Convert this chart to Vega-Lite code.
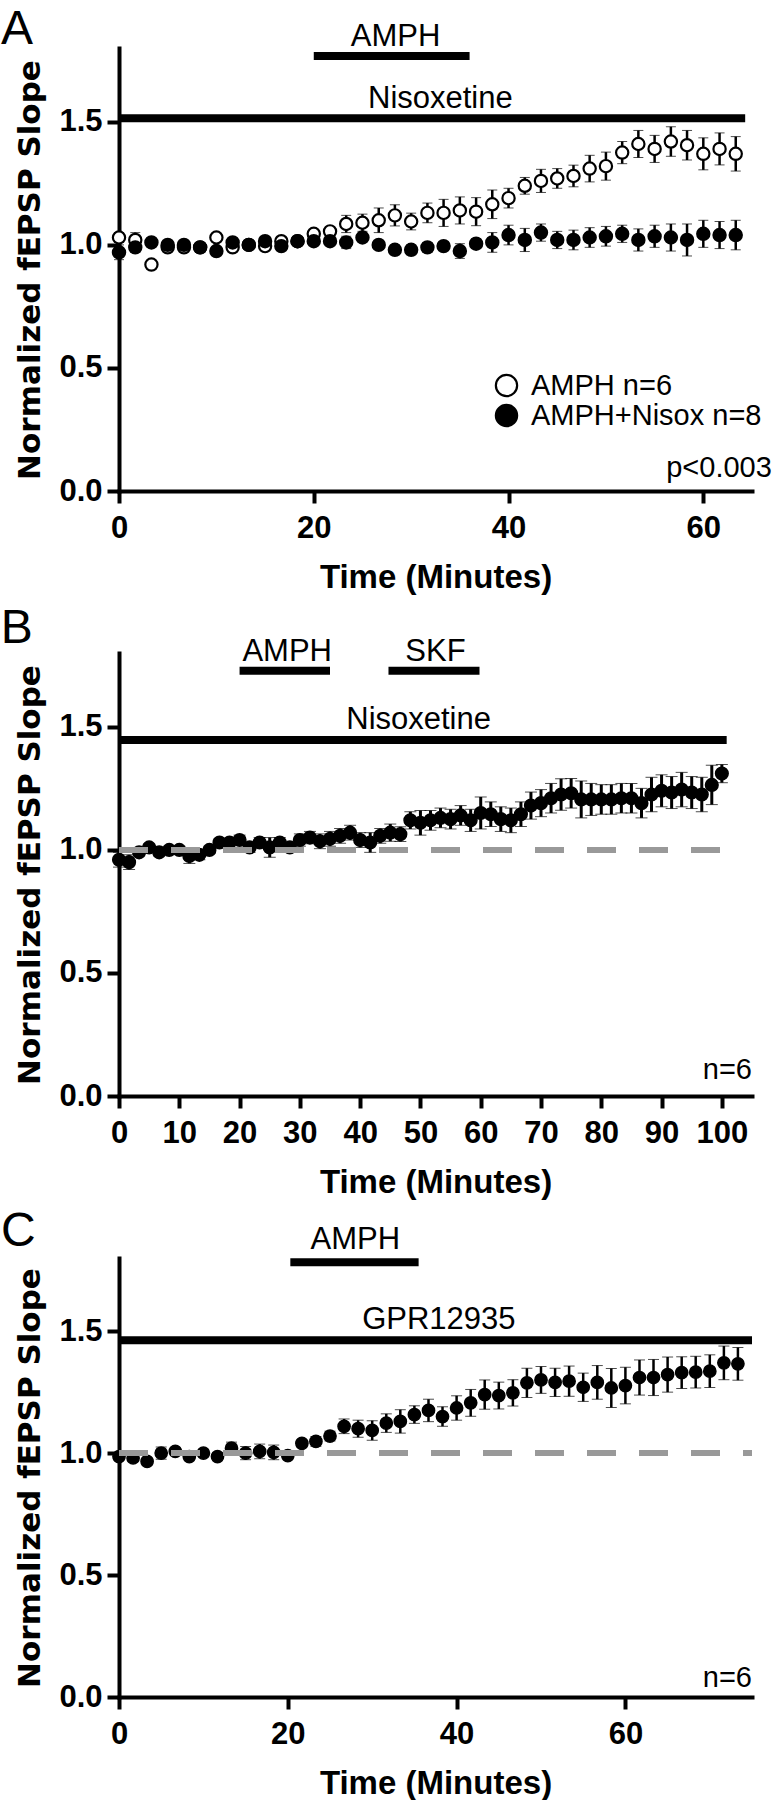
{
 "$schema": "https://vega.github.io/schema/vega-lite/v6.json",
 "padding": {"top": 5, "left": 0, "right": 0, "bottom": 0},
 "background": "white",
 "spacing": 162,
 "bounds": "flush",
 "resolve": {"scale": {"fill": "independent"}},
 "config": {
  "view": {"stroke": null},
  "font": "Liberation Sans",
  "axis": {"domainColor": "black", "domainWidth": 4, "tickColor": "black", "tickWidth": 4, "tickSize": 12, "labelFont": "Liberation Sans", "labelFontWeight": "bold", "labelFontSize": 31, "labelColor": "black", "grid": false, "titleColor": "black", "labelFlush": false, "labelOverlap": false, "domainCap": "square"},
  "axisX": {"labelPadding": 10, "titleFont": "Liberation Sans", "titleFontWeight": "bold", "titleFontSize": 33, "titleY": 96, "titleBaseline": "alphabetic"},
  "axisY": {"labelPadding": 5, "titleFont": "DejaVu Sans", "titleFontWeight": "bold", "titleFontSize": 31, "titleX": -80, "titleBaseline": "alphabetic"}
 },
 "datasets": {
  "A": [
   {"s": "AMPH n=6", "t": 0, "v": 1.03, "e": 0.02},
   {"s": "AMPH n=6", "t": 1.67, "v": 1.02, "e": 0.03},
   {"s": "AMPH n=6", "t": 3.33, "v": 0.92, "e": 0.015},
   {"s": "AMPH n=6", "t": 5, "v": 0.99, "e": 0.01},
   {"s": "AMPH n=6", "t": 6.67, "v": 0.99, "e": 0.01},
   {"s": "AMPH n=6", "t": 8.33, "v": 0.99, "e": 0.01},
   {"s": "AMPH n=6", "t": 10, "v": 1.03, "e": 0.01},
   {"s": "AMPH n=6", "t": 11.67, "v": 0.99, "e": 0.01},
   {"s": "AMPH n=6", "t": 13.33, "v": 1.0, "e": 0.01},
   {"s": "AMPH n=6", "t": 15, "v": 0.995, "e": 0.01},
   {"s": "AMPH n=6", "t": 16.67, "v": 1.015, "e": 0.01},
   {"s": "AMPH n=6", "t": 18.33, "v": 1.015, "e": 0.01},
   {"s": "AMPH n=6", "t": 20, "v": 1.045, "e": 0.01},
   {"s": "AMPH n=6", "t": 21.67, "v": 1.055, "e": 0.015},
   {"s": "AMPH n=6", "t": 23.33, "v": 1.085, "e": 0.035},
   {"s": "AMPH n=6", "t": 25, "v": 1.09, "e": 0.035},
   {"s": "AMPH n=6", "t": 26.67, "v": 1.1, "e": 0.05},
   {"s": "AMPH n=6", "t": 28.33, "v": 1.12, "e": 0.043},
   {"s": "AMPH n=6", "t": 30, "v": 1.095, "e": 0.034},
   {"s": "AMPH n=6", "t": 31.67, "v": 1.13, "e": 0.04},
   {"s": "AMPH n=6", "t": 33.33, "v": 1.13, "e": 0.055},
   {"s": "AMPH n=6", "t": 35, "v": 1.14, "e": 0.055},
   {"s": "AMPH n=6", "t": 36.67, "v": 1.135, "e": 0.057},
   {"s": "AMPH n=6", "t": 38.33, "v": 1.165, "e": 0.058},
   {"s": "AMPH n=6", "t": 40, "v": 1.19, "e": 0.04},
   {"s": "AMPH n=6", "t": 41.67, "v": 1.24, "e": 0.034},
   {"s": "AMPH n=6", "t": 43.33, "v": 1.26, "e": 0.047},
   {"s": "AMPH n=6", "t": 45, "v": 1.27, "e": 0.04},
   {"s": "AMPH n=6", "t": 46.67, "v": 1.28, "e": 0.044},
   {"s": "AMPH n=6", "t": 48.33, "v": 1.31, "e": 0.054},
   {"s": "AMPH n=6", "t": 50, "v": 1.32, "e": 0.057},
   {"s": "AMPH n=6", "t": 51.67, "v": 1.375, "e": 0.045},
   {"s": "AMPH n=6", "t": 53.33, "v": 1.41, "e": 0.055},
   {"s": "AMPH n=6", "t": 55, "v": 1.39, "e": 0.055},
   {"s": "AMPH n=6", "t": 56.67, "v": 1.42, "e": 0.06},
   {"s": "AMPH n=6", "t": 58.33, "v": 1.405, "e": 0.06},
   {"s": "AMPH n=6", "t": 60, "v": 1.37, "e": 0.065},
   {"s": "AMPH n=6", "t": 61.67, "v": 1.39, "e": 0.065},
   {"s": "AMPH n=6", "t": 63.33, "v": 1.37, "e": 0.07},
   {"s": "AMPH+Nisox n=8", "t": 0, "v": 0.97, "e": 0.03},
   {"s": "AMPH+Nisox n=8", "t": 1.67, "v": 0.99, "e": 0.02},
   {"s": "AMPH+Nisox n=8", "t": 3.33, "v": 1.01, "e": 0.01},
   {"s": "AMPH+Nisox n=8", "t": 5, "v": 1.0, "e": 0.01},
   {"s": "AMPH+Nisox n=8", "t": 6.67, "v": 1.0, "e": 0.01},
   {"s": "AMPH+Nisox n=8", "t": 8.33, "v": 0.99, "e": 0.02},
   {"s": "AMPH+Nisox n=8", "t": 10, "v": 0.975, "e": 0.01},
   {"s": "AMPH+Nisox n=8", "t": 11.67, "v": 1.01, "e": 0.01},
   {"s": "AMPH+Nisox n=8", "t": 13.33, "v": 1.0, "e": 0.01},
   {"s": "AMPH+Nisox n=8", "t": 15, "v": 1.015, "e": 0.01},
   {"s": "AMPH+Nisox n=8", "t": 16.67, "v": 0.995, "e": 0.01},
   {"s": "AMPH+Nisox n=8", "t": 18.33, "v": 1.015, "e": 0.01},
   {"s": "AMPH+Nisox n=8", "t": 20, "v": 1.015, "e": 0.01},
   {"s": "AMPH+Nisox n=8", "t": 21.67, "v": 1.015, "e": 0.01},
   {"s": "AMPH+Nisox n=8", "t": 23.33, "v": 1.01, "e": 0.025},
   {"s": "AMPH+Nisox n=8", "t": 25, "v": 1.03, "e": 0.015},
   {"s": "AMPH+Nisox n=8", "t": 26.67, "v": 1.0, "e": 0.015},
   {"s": "AMPH+Nisox n=8", "t": 28.33, "v": 0.98, "e": 0.02},
   {"s": "AMPH+Nisox n=8", "t": 30, "v": 0.98, "e": 0.02},
   {"s": "AMPH+Nisox n=8", "t": 31.67, "v": 0.99, "e": 0.02},
   {"s": "AMPH+Nisox n=8", "t": 33.33, "v": 0.995, "e": 0.015},
   {"s": "AMPH+Nisox n=8", "t": 35, "v": 0.975, "e": 0.03},
   {"s": "AMPH+Nisox n=8", "t": 36.67, "v": 1.005, "e": 0.02},
   {"s": "AMPH+Nisox n=8", "t": 38.33, "v": 1.01, "e": 0.04},
   {"s": "AMPH+Nisox n=8", "t": 40, "v": 1.04, "e": 0.04},
   {"s": "AMPH+Nisox n=8", "t": 41.67, "v": 1.02, "e": 0.047},
   {"s": "AMPH+Nisox n=8", "t": 43.33, "v": 1.05, "e": 0.035},
   {"s": "AMPH+Nisox n=8", "t": 45, "v": 1.02, "e": 0.035},
   {"s": "AMPH+Nisox n=8", "t": 46.67, "v": 1.02, "e": 0.04},
   {"s": "AMPH+Nisox n=8", "t": 48.33, "v": 1.03, "e": 0.04},
   {"s": "AMPH+Nisox n=8", "t": 50, "v": 1.035, "e": 0.04},
   {"s": "AMPH+Nisox n=8", "t": 51.67, "v": 1.045, "e": 0.035},
   {"s": "AMPH+Nisox n=8", "t": 53.33, "v": 1.02, "e": 0.045},
   {"s": "AMPH+Nisox n=8", "t": 55, "v": 1.035, "e": 0.045},
   {"s": "AMPH+Nisox n=8", "t": 56.67, "v": 1.03, "e": 0.055},
   {"s": "AMPH+Nisox n=8", "t": 58.33, "v": 1.02, "e": 0.065},
   {"s": "AMPH+Nisox n=8", "t": 60, "v": 1.045, "e": 0.055},
   {"s": "AMPH+Nisox n=8", "t": 61.67, "v": 1.04, "e": 0.055},
   {"s": "AMPH+Nisox n=8", "t": 63.33, "v": 1.04, "e": 0.06}
  ],
  "B": [
   {"t": 0, "v": 0.96, "e": 0.03}, {"t": 1.67, "v": 0.95, "e": 0.03}, {"t": 3.33, "v": 0.99, "e": 0.015},
   {"t": 5, "v": 1.01, "e": 0.015}, {"t": 6.67, "v": 0.99, "e": 0.015}, {"t": 8.33, "v": 1.0, "e": 0.015},
   {"t": 10, "v": 1.0, "e": 0.015}, {"t": 11.67, "v": 0.975, "e": 0.03}, {"t": 13.33, "v": 0.98, "e": 0.02},
   {"t": 15, "v": 1.0, "e": 0.015}, {"t": 16.67, "v": 1.03, "e": 0.015}, {"t": 18.33, "v": 1.03, "e": 0.015},
   {"t": 20, "v": 1.04, "e": 0.02}, {"t": 21.67, "v": 1.01, "e": 0.02}, {"t": 23.33, "v": 1.03, "e": 0.02},
   {"t": 25, "v": 1.01, "e": 0.04}, {"t": 26.67, "v": 1.03, "e": 0.02}, {"t": 28.33, "v": 1.01, "e": 0.02},
   {"t": 30, "v": 1.04, "e": 0.025}, {"t": 31.67, "v": 1.05, "e": 0.025}, {"t": 33.33, "v": 1.035, "e": 0.03},
   {"t": 35, "v": 1.045, "e": 0.03}, {"t": 36.67, "v": 1.057, "e": 0.03}, {"t": 38.33, "v": 1.07, "e": 0.03},
   {"t": 40, "v": 1.04, "e": 0.03}, {"t": 41.67, "v": 1.03, "e": 0.04}, {"t": 43.33, "v": 1.057, "e": 0.03},
   {"t": 45, "v": 1.07, "e": 0.035}, {"t": 46.67, "v": 1.064, "e": 0.03}, {"t": 48.33, "v": 1.12, "e": 0.035},
   {"t": 50, "v": 1.11, "e": 0.05}, {"t": 51.67, "v": 1.12, "e": 0.04}, {"t": 53.33, "v": 1.13, "e": 0.04},
   {"t": 55, "v": 1.125, "e": 0.04}, {"t": 56.67, "v": 1.14, "e": 0.04}, {"t": 58.33, "v": 1.12, "e": 0.045},
   {"t": 60, "v": 1.15, "e": 0.065}, {"t": 61.67, "v": 1.145, "e": 0.05}, {"t": 63.33, "v": 1.125, "e": 0.05},
   {"t": 65, "v": 1.12, "e": 0.05}, {"t": 66.67, "v": 1.145, "e": 0.05}, {"t": 68.33, "v": 1.18, "e": 0.055},
   {"t": 70, "v": 1.19, "e": 0.055}, {"t": 71.67, "v": 1.21, "e": 0.06}, {"t": 73.33, "v": 1.225, "e": 0.064},
   {"t": 75, "v": 1.23, "e": 0.06}, {"t": 76.67, "v": 1.205, "e": 0.075}, {"t": 78.33, "v": 1.205, "e": 0.065},
   {"t": 80, "v": 1.205, "e": 0.06}, {"t": 81.67, "v": 1.205, "e": 0.06}, {"t": 83.33, "v": 1.21, "e": 0.06},
   {"t": 85, "v": 1.21, "e": 0.06}, {"t": 86.67, "v": 1.19, "e": 0.06}, {"t": 88.33, "v": 1.225, "e": 0.07},
   {"t": 90, "v": 1.24, "e": 0.065}, {"t": 91.67, "v": 1.233, "e": 0.065}, {"t": 93.33, "v": 1.245, "e": 0.07},
   {"t": 95, "v": 1.233, "e": 0.065}, {"t": 96.67, "v": 1.225, "e": 0.07}, {"t": 98.33, "v": 1.264, "e": 0.08},
   {"t": 100, "v": 1.31, "e": 0.037}
  ],
  "C": [
   {"t": 0, "v": 0.986, "e": 0.015}, {"t": 1.67, "v": 0.98, "e": 0.015}, {"t": 3.33, "v": 0.966, "e": 0.015},
   {"t": 5, "v": 1.0, "e": 0.025}, {"t": 6.67, "v": 1.007, "e": 0.015}, {"t": 8.33, "v": 0.986, "e": 0.015},
   {"t": 10, "v": 1.0, "e": 0.015}, {"t": 11.67, "v": 0.986, "e": 0.015}, {"t": 13.33, "v": 1.02, "e": 0.025},
   {"t": 15, "v": 1.0, "e": 0.027}, {"t": 16.67, "v": 1.007, "e": 0.03}, {"t": 18.33, "v": 1.003, "e": 0.03},
   {"t": 20, "v": 0.99, "e": 0.015}, {"t": 21.67, "v": 1.04, "e": 0.015}, {"t": 23.33, "v": 1.048, "e": 0.02},
   {"t": 25, "v": 1.07, "e": 0.02}, {"t": 26.67, "v": 1.11, "e": 0.03}, {"t": 28.33, "v": 1.1, "e": 0.035},
   {"t": 30, "v": 1.093, "e": 0.04}, {"t": 31.67, "v": 1.123, "e": 0.038}, {"t": 33.33, "v": 1.13, "e": 0.048},
   {"t": 35, "v": 1.158, "e": 0.036}, {"t": 36.67, "v": 1.175, "e": 0.046}, {"t": 38.33, "v": 1.15, "e": 0.04},
   {"t": 40, "v": 1.185, "e": 0.05}, {"t": 41.67, "v": 1.206, "e": 0.055}, {"t": 43.33, "v": 1.24, "e": 0.06},
   {"t": 45, "v": 1.236, "e": 0.055}, {"t": 46.67, "v": 1.247, "e": 0.054}, {"t": 48.33, "v": 1.288, "e": 0.06},
   {"t": 50, "v": 1.3, "e": 0.055}, {"t": 51.67, "v": 1.29, "e": 0.058}, {"t": 53.33, "v": 1.295, "e": 0.062},
   {"t": 55, "v": 1.27, "e": 0.058}, {"t": 56.67, "v": 1.29, "e": 0.069}, {"t": 58.33, "v": 1.267, "e": 0.08},
   {"t": 60, "v": 1.277, "e": 0.075}, {"t": 61.67, "v": 1.31, "e": 0.072}, {"t": 63.33, "v": 1.31, "e": 0.074},
   {"t": 65, "v": 1.322, "e": 0.072}, {"t": 66.67, "v": 1.33, "e": 0.065}, {"t": 68.33, "v": 1.332, "e": 0.065},
   {"t": 70, "v": 1.336, "e": 0.067}, {"t": 71.67, "v": 1.37, "e": 0.069}, {"t": 73.33, "v": 1.366, "e": 0.067}
  ],
  "barsA": [{"t": 20, "t2": 36, "v": 1.768}, {"t": 0, "t2": 64.3, "v": 1.515}],
  "labelsA": [{"t": 28.4, "v": 1.809, "label": "AMPH"}, {"t": 33.0, "v": 1.557, "label": "Nisoxetine"}],
  "letterA": [{"t": -12.12, "v": 1.817, "label": "A"}],
  "noteA": [{"t": 67.04, "v": 0.057, "label": "p<0.003"}],
  "barsB": [{"t": 20, "t2": 35, "v": 1.728}, {"t": 44.7, "t2": 59.8, "v": 1.728}, {"t": 0, "t2": 100.8, "v": 1.447}],
  "labelsB": [{"t": 27.9, "v": 1.768, "label": "AMPH"}, {"t": 52.5, "v": 1.768, "label": "SKF"}, {"t": 49.7, "v": 1.49, "label": "Nisoxetine"}],
  "letterB": [{"t": -19.6, "v": 1.84, "label": "B"}],
  "noteB": [{"t": 105, "v": 0.069, "label": "n=6"}],
  "baseB": [{"t": 0, "t2": 100, "v": 1.0}],
  "barsC": [{"t": 20.3, "t2": 35.5, "v": 1.783}, {"t": 0, "t2": 75, "v": 1.463}],
  "labelsC": [{"t": 28.0, "v": 1.836, "label": "AMPH"}, {"t": 37.9, "v": 1.508, "label": "GPR12935"}],
  "letterC": [{"t": -13.98, "v": 1.848, "label": "C"}],
  "noteC": [{"t": 75, "v": 0.041, "label": "n=6"}],
  "baseC": [{"t": 0, "t2": 75, "v": 1.0}]
 },
 "vconcat": [
  {
   "width": 633, "height": 443,
   "encoding": {
    "x": {"field": "t", "type": "quantitative", "scale": {"domain": [0, 65], "nice": false, "zero": false}, "axis": {"values": [0, 20, 40, 60], "title": "Time (Minutes)"}},
    "y": {"field": "v", "type": "quantitative", "scale": {"domain": [0, 1.8], "nice": false}, "axis": {"values": [0, 0.5, 1, 1.5], "format": ".1f", "title": "Normalized fEPSP Slope"}}
   },
   "layer": [
    {"data": {"name": "barsA"}, "mark": {"type": "rule", "strokeWidth": 8, "color": "black", "strokeCap": "butt"}, "encoding": {"x2": {"field": "t2"}}},
    {"data": {"name": "A"}, "mark": {"type": "errorbar", "color": "black", "ticks": {"size": 10, "strokeWidth": 2.5, "color": "black"}, "rule": {"strokeWidth": 2.5, "color": "black"}}, "encoding": {"yError": {"field": "e"}}},
    {"data": {"name": "A"}, "mark": {"type": "point", "shape": "circle", "filled": true, "size": 150, "stroke": "black", "strokeWidth": 2.2, "opacity": 1},
     "encoding": {"fill": {"field": "s", "type": "nominal", "scale": {"domain": ["AMPH n=6", "AMPH+Nisox n=8"], "range": ["white", "black"]},
       "legend": {"orient": "none", "legendX": 373, "legendY": 323, "title": null, "symbolType": "circle", "symbolSize": 452, "symbolStrokeColor": "black", "symbolStrokeWidth": 2.2, "symbolOpacity": 1, "labelFont": "Liberation Sans", "labelFontSize": 29, "labelColor": "black", "labelOffset": 10, "labelLimit": 0, "rowPadding": -4, "padding": 0}}}},
    {"data": {"name": "labelsA"}, "mark": {"type": "text", "fontSize": 31, "align": "center", "baseline": "alphabetic", "color": "black"}, "encoding": {"text": {"field": "label"}}},
    {"data": {"name": "letterA"}, "mark": {"type": "text", "fontSize": 48, "align": "left", "baseline": "alphabetic", "color": "black"}, "encoding": {"text": {"field": "label"}}},
    {"data": {"name": "noteA"}, "mark": {"type": "text", "fontSize": 29, "align": "right", "baseline": "alphabetic", "color": "black"}, "encoding": {"text": {"field": "label"}}}
   ]
  },
  {
   "width": 633, "height": 443,
   "encoding": {
    "x": {"field": "t", "type": "quantitative", "scale": {"domain": [0, 105], "nice": false, "zero": false}, "axis": {"values": [0, 10, 20, 30, 40, 50, 60, 70, 80, 90, 100], "title": "Time (Minutes)"}},
    "y": {"field": "v", "type": "quantitative", "scale": {"domain": [0, 1.8], "nice": false}, "axis": {"values": [0, 0.5, 1, 1.5], "format": ".1f", "title": "Normalized fEPSP Slope"}}
   },
   "layer": [
    {"data": {"name": "barsB"}, "mark": {"type": "rule", "strokeWidth": 8, "color": "black", "strokeCap": "butt"}, "encoding": {"x2": {"field": "t2"}}},
    {"data": {"name": "B"}, "mark": {"type": "errorbar", "color": "black", "ticks": {"size": 12, "strokeWidth": 3, "color": "black"}, "rule": {"strokeWidth": 3, "color": "black"}}, "encoding": {"yError": {"field": "e"}}},
    {"data": {"name": "B"}, "mark": {"type": "point", "shape": "circle", "filled": true, "size": 160, "stroke": "black", "strokeWidth": 1.5, "fill": "black", "opacity": 1}},
    {"data": {"name": "baseB"}, "mark": {"type": "rule", "strokeWidth": 6, "color": "#999999", "strokeDash": [29, 23], "strokeCap": "butt"}, "encoding": {"x2": {"field": "t2"}}},
    {"data": {"name": "labelsB"}, "mark": {"type": "text", "fontSize": 31, "align": "center", "baseline": "alphabetic", "color": "black"}, "encoding": {"text": {"field": "label"}}},
    {"data": {"name": "letterB"}, "mark": {"type": "text", "fontSize": 48, "align": "left", "baseline": "alphabetic", "color": "black"}, "encoding": {"text": {"field": "label"}}},
    {"data": {"name": "noteB"}, "mark": {"type": "text", "fontSize": 29, "align": "right", "baseline": "alphabetic", "color": "black"}, "encoding": {"text": {"field": "label"}}}
   ]
  },
  {
   "width": 633, "height": 439,
   "encoding": {
    "x": {"field": "t", "type": "quantitative", "scale": {"domain": [0, 75], "nice": false, "zero": false}, "axis": {"values": [0, 20, 40, 60], "title": "Time (Minutes)"}},
    "y": {"field": "v", "type": "quantitative", "scale": {"domain": [0, 1.8], "nice": false}, "axis": {"values": [0, 0.5, 1, 1.5], "format": ".1f", "title": "Normalized fEPSP Slope"}}
   },
   "layer": [
    {"data": {"name": "barsC"}, "mark": {"type": "rule", "strokeWidth": 8, "color": "black", "strokeCap": "butt"}, "encoding": {"x2": {"field": "t2"}}},
    {"data": {"name": "C"}, "mark": {"type": "errorbar", "color": "black", "ticks": {"size": 11, "strokeWidth": 2.5, "color": "black"}, "rule": {"strokeWidth": 2.5, "color": "black"}}, "encoding": {"yError": {"field": "e"}}},
    {"data": {"name": "C"}, "mark": {"type": "point", "shape": "circle", "filled": true, "size": 150, "stroke": "black", "strokeWidth": 1.5, "fill": "black", "opacity": 1}},
    {"data": {"name": "baseC"}, "mark": {"type": "rule", "strokeWidth": 6, "color": "#999999", "strokeDash": [29, 23], "strokeCap": "butt"}, "encoding": {"x2": {"field": "t2"}}},
    {"data": {"name": "labelsC"}, "mark": {"type": "text", "fontSize": 31, "align": "center", "baseline": "alphabetic", "color": "black"}, "encoding": {"text": {"field": "label"}}},
    {"data": {"name": "letterC"}, "mark": {"type": "text", "fontSize": 48, "align": "left", "baseline": "alphabetic", "color": "black"}, "encoding": {"text": {"field": "label"}}},
    {"data": {"name": "noteC"}, "mark": {"type": "text", "fontSize": 29, "align": "right", "baseline": "alphabetic", "color": "black"}, "encoding": {"text": {"field": "label"}}}
   ]
  }
 ]
}
